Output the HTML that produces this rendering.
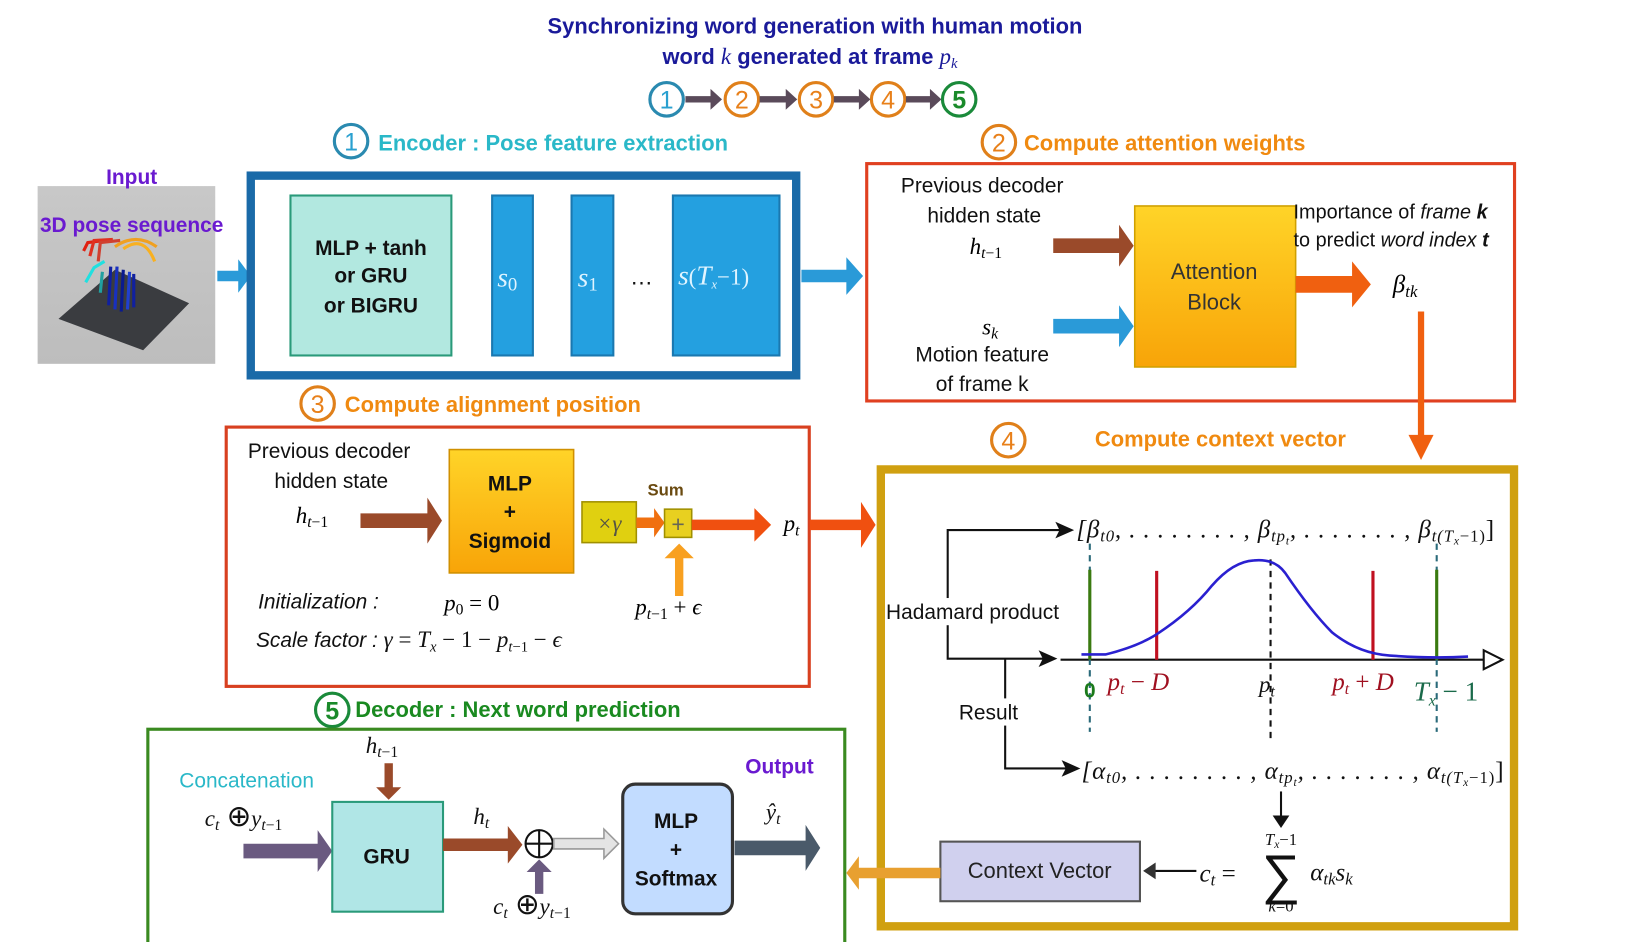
<!DOCTYPE html>
<html><head><meta charset="utf-8"><style>
html,body{margin:0;padding:0;background:#fff;}
svg{display:block}
text{font-family:"Liberation Sans",sans-serif;}
.m, g.m text{font-family:"Liberation Serif",serif;font-style:italic;}
.b{font-weight:bold}
</style></head><body>
<svg width="1630" height="942" viewBox="0 0 1560 901" preserveAspectRatio="none" xmlns="http://www.w3.org/2000/svg">
<rect width="1560" height="901" fill="#fff"/>
<!-- title -->
<text x="780" y="32" text-anchor="middle" font-size="21" class="b" fill="#1a1a9a">Synchronizing word generation with human motion</text>
<text x="634" y="61" font-size="21" class="b" fill="#1a1a9a">word <tspan class="m" font-weight="normal" font-size="22">k</tspan> generated at frame <tspan class="m" font-weight="normal" font-size="22">p</tspan><tspan class="m" font-weight="normal" font-size="14" dy="4">k</tspan></text>
<!-- circle row -->
<g font-size="24" text-anchor="middle" stroke-width="3" fill="none">
<circle cx="638" cy="95" r="16" stroke="#2a8ab0"/><circle cx="710" cy="95" r="16" stroke="#e0801a"/><circle cx="781" cy="95" r="16" stroke="#e0801a"/><circle cx="850" cy="95" r="16" stroke="#e0801a"/><circle cx="918" cy="95" r="16" stroke="#1a8a3a"/>
</g>
<g font-size="24" text-anchor="middle">
<text x="638" y="104" fill="#2aa0d0">1</text><text x="710" y="104" fill="#e8801a">2</text><text x="781" y="104" fill="#e8801a">3</text><text x="850" y="104" fill="#e8801a">4</text><text x="918" y="104" fill="#1a8a2a" class="b">5</text>
</g>
<g fill="#5a4a5a">
<polygon points="656,92 680,92 680,85 691,95 680,105 680,98 656,98"/>
<polygon points="727,92 752,92 752,85 763,95 752,105 752,98 727,98"/>
<polygon points="798,92 822,92 822,85 833,95 822,105 822,98 798,98"/>
<polygon points="867,92 890,92 890,85 901,95 890,105 890,98 867,98"/>
</g>
<!-- section 1 -->
<circle cx="336" cy="135" r="16" stroke="#2a8ab0" stroke-width="3" fill="none"/>
<text x="336" y="144" font-size="24" text-anchor="middle" fill="#2aa0d0">1</text>
<text x="362" y="144" font-size="21" class="b" fill="#2ab8c8">Encoder : Pose feature extraction</text>
<!-- input image -->
<defs><linearGradient id="gi" x1="0" y1="0" x2="0" y2="1"><stop offset="0" stop-color="#c8c8c8"/><stop offset="1" stop-color="#bdbdbd"/></linearGradient>
<linearGradient id="go" x1="0" y1="0" x2="0" y2="1"><stop offset="0" stop-color="#ffd428"/><stop offset="1" stop-color="#f8a408"/></linearGradient></defs>
<rect x="36" y="178" width="170" height="170" fill="url(#gi)"/>
<polygon points="56,305 110,258 181,290 137,335" fill="#3a3c40"/>
<g stroke-width="3" fill="none">
<path d="M80,240 L84,232 L100,230" stroke="#e02010"/><path d="M86,245 L90,230 L108,229" stroke="#e03020"/><path d="M94,250 L96,232 L115,230" stroke="#d04030"/>
<path d="M110,236 Q130,222 150,236" stroke="#f0a020"/><path d="M118,238 Q138,224 148,250" stroke="#f8b020"/>
<path d="M82,270 L90,256 L100,250" stroke="#20e0e0"/><path d="M96,280 L98,260" stroke="#20a0a0"/>
<path d="M104,292 L106,255" stroke="#1020a0"/><path d="M110,296 L112,255" stroke="#1830c0"/><path d="M116,298 L118,258" stroke="#0a1a90"/><path d="M122,296 L124,260" stroke="#2040d0"/><path d="M128,294 L128,262" stroke="#1020a0"/>
</g>
<text x="126" y="176" font-size="20" text-anchor="middle" class="b" fill="#6a1ad0">Input</text>
<text x="126" y="222" font-size="20" text-anchor="middle" class="b" fill="#6a1ad0">3D pose sequence</text>
<polygon points="208,259 228,259 228,248 240,264 228,280 228,269 208,269" fill="#2a9ad8"/>
<!-- encoder box -->
<rect x="240" y="168" width="522" height="191" fill="#fff" stroke="#1a6aa8" stroke-width="8"/>
<rect x="278" y="187" width="154" height="153" fill="#b2e8e0" stroke="#2a9a7a" stroke-width="2"/>
<g font-size="20" class="b" text-anchor="middle" fill="#111"><text x="355" y="244">MLP + tanh</text><text x="355" y="270">or GRU</text><text x="355" y="299">or BIGRU</text></g>
<rect x="471" y="187" width="39" height="153" fill="#24a0e0" stroke="#1a78b0" stroke-width="2"/>
<rect x="547" y="187" width="40" height="153" fill="#24a0e0" stroke="#1a78b0" stroke-width="2"/>
<rect x="644" y="187" width="102" height="153" fill="#24a0e0" stroke="#1a78b0" stroke-width="2"/>
<g class="m" fill="#e0f4ff" font-size="26"><text x="476" y="274">s<tspan font-size="18" font-style="normal" dy="4">0</tspan></text><text x="553" y="274">s<tspan font-size="18" font-style="normal" dy="4">1</tspan></text><text x="649" y="272">s<tspan font-size="22" font-style="normal">(</tspan>T<tspan font-size="12" dy="4">x</tspan><tspan dy="-4" font-style="normal" font-size="22">−1)</tspan></text></g>
<text x="614" y="272" font-size="22" text-anchor="middle" fill="#111">…</text>
<polygon points="767,258 810,258 810,246 826,264 810,282 810,270 767,270" fill="#2a9ad8"/>
<!-- section 2 -->
<circle cx="956" cy="136" r="16" stroke="#e0801a" stroke-width="3" fill="none"/>
<text x="956" y="145" font-size="24" text-anchor="middle" fill="#e8801a">2</text>
<text x="980" y="144" font-size="21" class="b" fill="#f08a10">Compute attention weights</text>
<rect x="829.5" y="156.5" width="620" height="227" fill="#fff" stroke="#e04020" stroke-width="3"/>
<g font-size="20" text-anchor="middle" fill="#111"><text x="940" y="184">Previous decoder</text><text x="942" y="213">hidden state</text><text x="940" y="346">Motion feature</text><text x="940" y="374">of frame k</text></g>
<text x="928" y="243" class="m" font-size="22">h<tspan font-size="15" dy="4">t</tspan><tspan font-size="15" font-style="normal">−1</tspan></text>
<text x="940" y="320" class="m" font-size="22">s<tspan font-size="15" dy="4">k</tspan></text>
<polygon points="1008,228 1071,228 1071,215 1085,235 1071,255 1071,242 1008,242" fill="#9a4a2a"/>
<polygon points="1008,305 1071,305 1071,292 1085,312 1071,332 1071,319 1008,319" fill="#2a9ad8"/>
<rect x="1086" y="197" width="154" height="154" fill="url(#go)" stroke="#d0a000" stroke-width="1.5"/>
<g font-size="21" text-anchor="middle" fill="#333"><text x="1162" y="267">Attention</text><text x="1162" y="296">Block</text></g>
<text x="1238" y="209" font-size="19" fill="#111">Importance of <tspan font-style="italic">frame</tspan> <tspan font-style="italic" font-weight="bold">k</tspan></text>
<text x="1238" y="236" font-size="19" fill="#111">to predict <tspan font-style="italic">word index</tspan> <tspan font-style="italic" font-weight="bold">t</tspan></text>
<polygon points="1240,264 1294,264 1294,250 1312,272 1294,294 1294,280 1240,280" fill="#f06010"/>
<text x="1333" y="280" class="m" font-size="24">β<tspan font-size="16" dy="4">tk</tspan></text>
<polygon points="1357,298 1363,298 1363,416 1372,416 1360,440 1348,416 1357,416" fill="#f06010"/>
<!-- section 3 -->
<circle cx="304" cy="386" r="16" stroke="#e0801a" stroke-width="3" fill="none"/>
<text x="304" y="395" font-size="24" text-anchor="middle" fill="#e8801a">3</text>
<text x="330" y="394" font-size="21" class="b" fill="#f08a10">Compute alignment position</text>
<rect x="216.5" y="408.5" width="558" height="248" fill="#fff" stroke="#d84020" stroke-width="3"/>
<g font-size="20" text-anchor="middle" fill="#111"><text x="315" y="438">Previous decoder</text><text x="317" y="467">hidden state</text></g>
<text x="283" y="500" class="m" font-size="22">h<tspan font-size="15" dy="4">t</tspan><tspan font-size="15" font-style="normal">−1</tspan></text>
<polygon points="345,491 409,491 409,476 423,498 409,520 409,505 345,505" fill="#9a4a2a"/>
<rect x="430" y="430" width="119" height="118" fill="url(#go)" stroke="#d09000" stroke-width="1.5"/>
<g font-size="20" class="b" text-anchor="middle" fill="#111"><text x="488" y="469">MLP</text><text x="488" y="496">+</text><text x="488" y="524">Sigmoid</text></g>
<rect x="557" y="480" width="52" height="39" fill="#e0d010" stroke="#a09000" stroke-width="1.5"/>
<text x="583" y="508" text-anchor="middle" class="m" font-size="22" fill="#554">×γ</text>
<polygon points="609,495 626,495 626,486 636,500 626,514 626,505 609,505" fill="#f07010"/>
<rect x="636" y="487" width="26" height="27" fill="#e8d020" stroke="#a09000" stroke-width="1.5"/>
<text x="649" y="509" text-anchor="middle" font-size="22" fill="#665">+</text>
<text x="637" y="474" text-anchor="middle" font-size="16" class="b" fill="#6a4a10">Sum</text>
<polygon points="662,497 722,497 722,486 738,502 722,518 722,507 662,507" fill="#f05010"/>
<text x="750" y="508" class="m" font-size="22">p<tspan font-size="15" dy="4">t</tspan></text>
<polygon points="646,570 654,570 654,534 664,534 650,520 636,534 646,534" fill="#f8a020"/>
<text x="608" y="588" class="m" font-size="22">p<tspan font-size="15" dy="4">t</tspan><tspan font-size="15" font-style="normal">−1</tspan><tspan dy="-4" font-style="normal"> + </tspan>ϵ</text>
<text x="247" y="582" font-size="20" font-style="italic" fill="#111">Initialization :</text>
<text x="425" y="584" class="m" font-size="22">p<tspan font-size="15" font-style="normal" dy="4">0</tspan><tspan dy="-4" font-style="normal"> = 0</tspan></text>
<text x="245" y="619" font-size="20" font-style="italic" fill="#111">Scale factor : <tspan class="m" font-size="22">γ</tspan><tspan font-family="Liberation Serif" font-style="normal" font-size="22"> = </tspan><tspan class="m" font-size="22">T</tspan><tspan class="m" font-size="14" dy="4">x</tspan><tspan font-family="Liberation Serif" font-style="normal" font-size="22" dy="-4"> − 1 − </tspan><tspan class="m" font-size="22">p</tspan><tspan class="m" font-size="14" dy="4">t</tspan><tspan font-family="Liberation Serif" font-style="normal" font-size="14">−1</tspan><tspan font-family="Liberation Serif" font-style="normal" font-size="22" dy="-4"> − </tspan><tspan class="m" font-size="22">ϵ</tspan></text>
<polygon points="775,497 824,497 824,480 838,502 824,524 824,507 775,507" fill="#f05010"/>
<!-- section 4 -->
<circle cx="965" cy="421" r="16" stroke="#e0801a" stroke-width="3" fill="none"/>
<text x="965" y="430" font-size="24" text-anchor="middle" fill="#e8801a">4</text>
<text x="1168" y="427" font-size="21" text-anchor="middle" class="b" fill="#f08a10">Compute context vector</text>
<rect x="843" y="449" width="606" height="437" fill="#fff" stroke="#d0a010" stroke-width="8"/>
<text x="1030" y="514" class="m" font-size="24" fill="#111" textLength="400" lengthAdjust="spacing">[β<tspan font-size="16" dy="4">t0</tspan><tspan dy="-4">, . . . . . . . . , β</tspan><tspan font-size="16" dy="4">tp</tspan><tspan font-size="11" dy="3">t</tspan><tspan dy="-7">, . . . . . . . , β</tspan><tspan font-size="16" dy="4">t(T</tspan><tspan font-size="11" dy="3">x</tspan><tspan font-size="16" dy="-3" font-style="normal">−1)</tspan><tspan dy="-4" font-style="normal">]</tspan></text>
<g stroke="#111" stroke-width="2" fill="none">
<path d="M1020,507 L907,507 L907,630 L1000,630"/>
<path d="M962,630 L962,735 L1022,735"/>
<path d="M1015,631 L1420,631"/>
<path d="M1226,757 L1226,782"/>
<path d="M1145,833 L1104,833"/>
</g>
<polygon points="1010,499 1028,507 1010,515 1014,507" fill="#111"/>
<polygon points="994,622 1012,630 994,638 998,630" fill="#111"/>
<polygon points="1016,727 1034,735 1016,743 1020,735" fill="#111"/>
<polygon points="1218,780 1226,792 1234,780" fill="#111"/>
<polygon points="1106,825 1094,833 1106,841" fill="#333"/>
<polygon points="1420,622 1438,631 1420,640" fill="#fff" stroke="#111" stroke-width="2"/>
<g stroke-width="2" stroke-dasharray="6,5" fill="none">
<path d="M1043,520 L1043,700" stroke="#2a6a7a"/><path d="M1375,520 L1375,700" stroke="#2a6a7a"/><path d="M1216,535 L1216,710" stroke="#111"/>
</g>
<g stroke-width="3"><path d="M1043,545 L1043,631" stroke="#3a7a10"/><path d="M1375,545 L1375,631" stroke="#3a7a10"/><path d="M1107,546 L1107,631" stroke="#c01020"/><path d="M1314,546 L1314,631" stroke="#c01020"/></g>
<path d="M1035,626 L1058,626 Q1090,618 1108,606 Q1140,585 1160,560 Q1180,537 1200,536 Q1220,534 1230,548 Q1255,585 1275,605 Q1300,625 1330,627 Q1370,630 1405,628" stroke="#2a20d0" stroke-width="2.5" fill="none"/>
<rect x="848" y="572" width="176" height="26" fill="#fff"/>
<text x="848" y="592" font-size="20" fill="#111">Hadamard product</text>
<rect x="910" y="668" width="72" height="26" fill="#fff"/>
<text x="946" y="688" font-size="20" text-anchor="middle" fill="#111">Result</text>
<text x="1043" y="667" font-size="20" text-anchor="middle" class="b" fill="#1a7a1a">0</text>
<text x="1060" y="660" class="m" font-size="24" fill="#a01020">p<tspan font-size="15" dy="4">t</tspan><tspan dy="-4" font-style="normal"> − </tspan>D</text>
<text x="1205" y="662" class="m" font-size="22" fill="#111">p<tspan font-size="15" dy="4">t</tspan></text>
<text x="1275" y="660" class="m" font-size="24" fill="#a01020">p<tspan font-size="15" dy="4">t</tspan><tspan dy="-4" font-style="normal"> + </tspan>D</text>
<text x="1353" y="670" class="m" font-size="26" fill="#1a6a4a">T<tspan font-size="15" dy="5">x</tspan><tspan dy="-5" font-style="normal"> − 1</tspan></text>
<text x="1035" y="745" class="m" font-size="24" fill="#111" textLength="404" lengthAdjust="spacing">[α<tspan font-size="16" dy="4">t0</tspan><tspan dy="-4">, . . . . . . . . , α</tspan><tspan font-size="16" dy="4">tp</tspan><tspan font-size="11" dy="3">t</tspan><tspan dy="-7">, . . . . . . . , α</tspan><tspan font-size="16" dy="4">t(T</tspan><tspan font-size="11" dy="3">x</tspan><tspan font-size="16" dy="-3" font-style="normal">−1)</tspan><tspan dy="-4" font-style="normal">]</tspan></text>
<text x="1148" y="843" class="m" font-size="24" fill="#111">c<tspan font-size="16" dy="4">t</tspan><tspan dy="-4" font-style="normal"> = </tspan></text>
<text x="1226" y="854" font-size="52" text-anchor="middle" font-family="Liberation Serif" fill="#111">∑</text>
<text x="1226" y="808" font-size="16" text-anchor="middle" class="m" fill="#111">T<tspan font-size="11" dy="3">x</tspan><tspan font-style="normal" dy="-3">−1</tspan></text>
<text x="1226" y="872" font-size="16" text-anchor="middle" class="m" fill="#111">k<tspan font-style="normal">=0</tspan></text>
<text x="1254" y="842" class="m" font-size="24" fill="#111">α<tspan font-size="16" dy="4">tk</tspan><tspan dy="-4">s</tspan><tspan font-size="16" dy="4">k</tspan></text>
<rect x="900" y="805" width="191" height="57" fill="#d0d0ee" stroke="#555" stroke-width="2"/>
<text x="995" y="840" font-size="21" text-anchor="middle" fill="#222">Context Vector</text>
<polygon points="900,830 822,830 822,819 810,835 822,851 822,840 900,840" fill="#e8a030"/>
<!-- section 5 -->
<circle cx="318" cy="679" r="16" stroke="#1a8a3a" stroke-width="3" fill="none"/>
<text x="318" y="688" font-size="24" text-anchor="middle" class="b" fill="#1a8a2a">5</text>
<text x="340" y="686" font-size="21" class="b" fill="#1a8a20">Decoder : Next word prediction</text>
<rect x="141.5" y="697.5" width="667" height="205" fill="#fff" stroke="#3a8a20" stroke-width="3"/>
<text x="236" y="753" font-size="20" text-anchor="middle" fill="#2ab8c8">Concatenation</text>
<text x="746" y="740" font-size="20" text-anchor="middle" class="b" fill="#6a1ad0">Output</text>
<text x="196" y="790" class="m" font-size="22" fill="#111">c<tspan font-size="15" dy="4">t</tspan><tspan dy="-4" font-style="normal" font-size="28"> ⊕</tspan>y<tspan font-size="15" dy="4">t</tspan><tspan font-size="15" font-style="normal">−1</tspan></text>
<polygon points="233,807 304,807 304,794 318,814 304,834 304,821 233,821" fill="#6a5a80"/>
<rect x="318" y="767" width="106" height="105" fill="#b0e6e6" stroke="#2a9a7a" stroke-width="2"/>
<text x="370" y="826" font-size="20" text-anchor="middle" class="b" fill="#111">GRU</text>
<text x="350" y="720" class="m" font-size="22" fill="#111">h<tspan font-size="15" dy="4">t</tspan><tspan font-size="15" font-style="normal">−1</tspan></text>
<polygon points="368,730 376,730 376,753 384,753 372,765 360,753 368,753" fill="#9a4a2a"/>
<text x="453" y="788" class="m" font-size="22" fill="#111">h<tspan font-size="15" dy="4">t</tspan></text>
<polygon points="424,802 486,802 486,790 500,808 486,826 486,814 424,814" fill="#9a4a2a"/>
<circle cx="516" cy="807" r="13" fill="#fff" stroke="#111" stroke-width="2"/>
<path d="M503,807 L529,807 M516,794 L516,820" stroke="#111" stroke-width="2"/>
<polygon points="530,802 578,802 578,793 592,807 578,821 578,812 530,812" fill="#e4e4e4" stroke="#999" stroke-width="1.5"/>
<polygon points="512,855 520,855 520,834 528,834 516,822 504,834 512,834" fill="#6a5a80"/>
<text x="472" y="874" class="m" font-size="22" fill="#111">c<tspan font-size="15" dy="4">t</tspan><tspan dy="-4" font-style="normal" font-size="28"> ⊕</tspan>y<tspan font-size="15" dy="4">t</tspan><tspan font-size="15" font-style="normal">−1</tspan></text>
<rect x="596" y="750" width="105" height="124" rx="12" fill="#c2dcff" stroke="#333" stroke-width="3"/>
<g font-size="20" class="b" text-anchor="middle" fill="#111"><text x="647" y="792">MLP</text><text x="647" y="819">+</text><text x="647" y="847">Softmax</text></g>
<text x="733" y="784" class="m" font-size="22" fill="#111">ŷ<tspan font-size="15" dy="4">t</tspan></text>
<polygon points="703,804 771,804 771,789 785,811 771,833 771,818 703,818" fill="#4a5a6a"/>
</svg>
</body></html>
